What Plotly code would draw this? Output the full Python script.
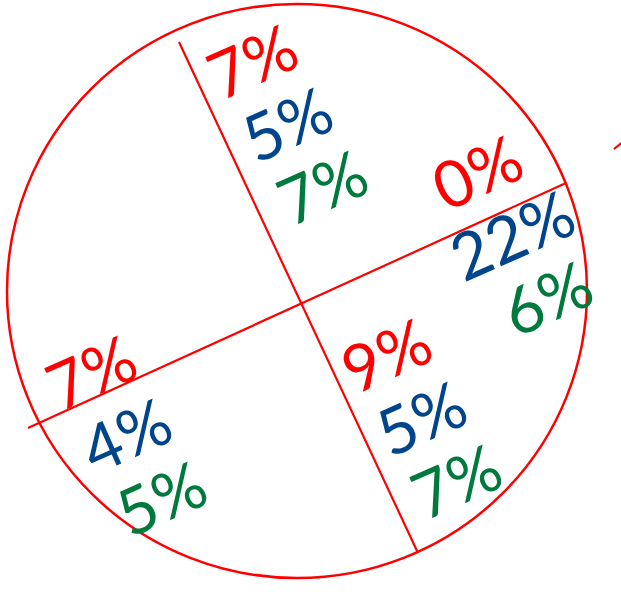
import math
import plotly.graph_objects as go

# Quadrant labels (three series per quadrant)
quadrants = ["top", "right", "bottom", "left"]
red_values = [7, 0, 9, 7]
blue_values = [5, 22, 5, 4]
green_values = [7, 6, 7, 5]
series_colors = ["#FF0000", "#00448C", "#007A3C"]

W, H = 621, 592
# layout geometry (pixel space)
circle_center = (297, 291)
circle_radius = (290, 287)
line_a = ((28, 428), (566, 183))
line_b = ((179, 42), (418, 553))
stray = ((614, 149), (640, 128))
anchors = {"top": (252, 60), "right": (477, 171), "bottom": (386, 354), "left": (91, 371)}
step = (35, 63)
angle = -24
font_size = 65

fig = go.Figure()
fig.add_trace(go.Scatter(x=[0, W], y=[0, H], mode="markers", marker=dict(opacity=0), hoverinfo="skip", showlegend=False))

cx, cy = circle_center
rx, ry = circle_radius
fig.add_shape(type="circle", x0=cx - rx, x1=cx + rx, y0=cy - ry, y1=cy + ry,
              line=dict(color="#FF0000", width=2.5))
for (p, q) in (line_a, line_b, stray):
    fig.add_shape(type="line", x0=p[0], y0=p[1], x1=q[0], y1=q[1], line=dict(color="#FF0000", width=2.2))

for i, qd in enumerate(quadrants):
    ax, ay = anchors[qd]
    for k, vals in enumerate((red_values, blue_values, green_values)):
        fig.add_annotation(x=ax + k * step[0], y=ay + k * step[1], text=f"{vals[i]}%",
                           showarrow=False, textangle=angle,
                           font=dict(size=font_size, color=series_colors[k], family="Lato"))

fig.update_xaxes(range=[0, W], visible=False, fixedrange=True)
fig.update_yaxes(range=[H, 0], visible=False, fixedrange=True)
fig.update_layout(width=W, height=H, margin=dict(l=0, r=0, t=0, b=0),
                  paper_bgcolor="white", plot_bgcolor="white", showlegend=False)
fig.write_html("out.html", config={"displayModeBar": False},
               post_script="document.body.style.margin='0';")
